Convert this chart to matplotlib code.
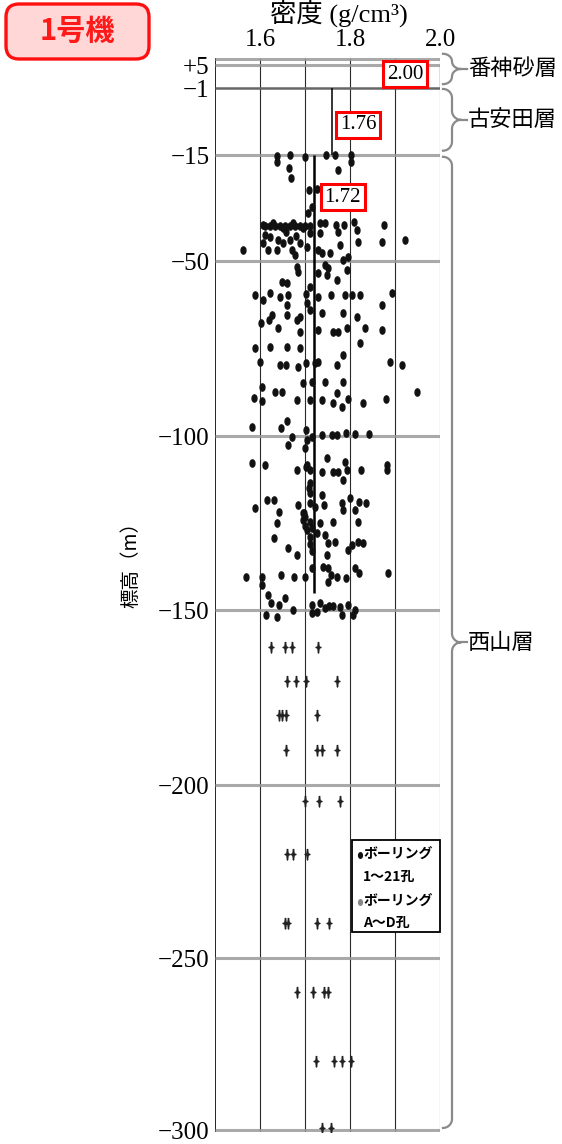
import numpy as np
import matplotlib.pyplot as plt
from matplotlib.path import Path
from matplotlib.patches import FancyBboxPatch, Rectangle
from matplotlib.lines import Line2D

SERIF = ['Liberation Serif', 'Noto Sans CJK JP']
JP = ['Noto Sans CJK JP', 'DejaVu Sans']
plt.rcParams['font.family'] = SERIF

# ボーリング1~21孔 : 標高 (m) / 密度 (g/cm3)
b121_elev = [
    -15.3, -17.3, -15.0, -15.7, -15.0, -15.0, -15.0, -17.3, -19.3, -22.6, -20.0, -26.6, -26.2, -34.2, -32.2,
    -38.4, -38.4, -38.4, -38.4, -38.4, -38.4, -38.4, -38.4, -38.4, -38.4, -37.5, -39.1, -37.5, -39.1,
    -38.1, -37.5, -37.5, -38.1, -38.1, -37.1, -39.8, -38.1, -43.7, -43.1, -46.4, -41.4, -42.1, -44.1,
    -46.4, -43.1, -46.4, -44.1, -43.1, -46.4, -48.0, -44.1, -45.4, -40.8, -40.8, -46.4, -47.4, -47.4,
    -40.4, -44.7, -48.7, -43.7, -40.4, -41.7,
    -51.7, -53.1, -51.1, -52.0, -52.6, -53.4, -54.0, -55.4, -49.7, -56.0, -56.3, -57.4, -59.7, -61.1,
    -59.1, -59.7, -59.4, -60.3, -59.7, -59.7, -59.7, -59.7, -59.1, -60.3, -62.6, -62.0, -62.6, -65.4,
    -65.4, -66.0, -64.0, -64.9, -64.9, -66.0, -67.7, -66.9, -69.1, -66.9, -70.3, -69.7, -70.3, -70.3,
    -69.1, -69.1, -69.7, -74.9, -74.6, -74.6, -74.9, -73.4, -76.9, -78.9, -79.7, -79.7, -80.3, -79.1,
    -79.1, -78.9, -79.7, -78.9, -79.7, -86.0, -87.4, -87.4, -84.9, -84.6, -84.6, -84.6, -87.7, -89.1,
    -90.0, -89.7, -89.7, -89.7, -90.6, -91.7, -89.4, -90.6, -89.4, -87.4, -97.4, -97.7, -95.7, -100.3,
    -102.6, -98.3, -101.1, -103.4, -100.3, -99.7, -99.7, -99.7, -99.1, -99.4, -99.4,
    -107.8, -108.3, -109.8, -108.9, -109.8, -106.3, -110.3, -110.3, -107.5, -112.6, -109.8, -108.3,
    -109.8, -108.3, -110.3, -109.8, -113.5, -120.7, -118.4, -118.4, -121.8, -119.8, -122.1, -116.4,
    -119.3, -120.4, -117.0, -119.8, -119.3, -117.8, -121.3, -119.0, -119.3, -125.0, -124.7, -124.7,
    -124.1, -124.7, -123.3, -121.3, -125.0, -129.3, -132.2, -134.2, -126.4, -127.9, -128.4, -130.7,
    -130.5, -134.2, -132.7, -131.3, -130.5, -130.7, -126.0, -127.0, -129.0, -131.0, -133.0, -122.0,
    -115.0,
    -140.5, -140.5, -142.8, -139.9, -140.5, -140.5, -137.9, -137.6, -137.9, -139.9, -141.9, -140.5,
    -140.8, -137.9, -139.4, -139.4, -145.7, -148.0, -148.6, -146.6, -150.0, -148.6, -150.9, -148.0,
    -148.9, -148.9, -149.1, -148.6, -150.0, -151.4, -152.0, -151.4, -151.4, -150.6, -149.4,
]
b121_dens = [
    1.638, 1.638, 1.667, 1.700, 1.747, 1.767, 1.802, 1.802, 1.664, 1.669, 1.773, 1.709, 1.727, 1.707, 1.716,
    1.611, 1.622, 1.633, 1.644, 1.656, 1.667, 1.678, 1.689, 1.700, 1.711, 1.629, 1.651, 1.673, 1.696,
    1.607, 1.733, 1.744, 1.769, 1.787, 1.809, 1.816, 1.876, 1.871, 1.922, 1.562, 1.611, 1.622, 1.607,
    1.618, 1.640, 1.638, 1.651, 1.667, 1.671, 1.678, 1.689, 1.704, 1.711, 1.733, 1.729, 1.738, 1.756,
    1.773, 1.778, 1.796, 1.818, 1.658, 1.680,
    1.682, 1.684, 1.744, 1.751, 1.793, 1.729, 1.749, 1.771, 1.784, 1.649, 1.660, 1.711, 1.589, 1.607,
    1.622, 1.662, 1.702, 1.729, 1.758, 1.789, 1.804, 1.822, 1.893, 1.644, 1.660, 1.704, 1.871, 1.627,
    1.660, 1.689, 1.711, 1.738, 1.784, 1.816, 1.602, 1.620, 1.640, 1.682, 1.689, 1.729, 1.762, 1.773,
    1.793, 1.833, 1.871, 1.589, 1.622, 1.660, 1.689, 1.822, 1.784, 1.600, 1.644, 1.658, 1.684, 1.702,
    1.722, 1.729, 1.771, 1.889, 1.916, 1.604, 1.633, 1.649, 1.696, 1.716, 1.744, 1.784, 1.771, 1.587,
    1.604, 1.682, 1.711, 1.738, 1.762, 1.782, 1.796, 1.829, 1.880, 1.949, 1.582, 1.647, 1.660, 1.671,
    1.662, 1.702, 1.704, 1.700, 1.716, 1.738, 1.760, 1.771, 1.791, 1.811, 1.842,
    1.582, 1.611, 1.682, 1.702, 1.711, 1.749, 1.762, 1.773, 1.789, 1.784, 1.824, 1.882,
    1.882, 1.704, 1.738, 1.793, 1.711, 1.589, 1.616, 1.631, 1.642, 1.684, 1.698, 1.711,
    1.711, 1.722, 1.738, 1.742, 1.782, 1.800, 1.811, 1.820, 1.836, 1.638, 1.762, 1.818,
    1.696, 1.711, 1.700, 1.784, 1.733, 1.631, 1.662, 1.682, 1.716, 1.727, 1.744, 1.751,
    1.767, 1.749, 1.796, 1.804, 1.818, 1.829, 1.700, 1.705, 1.710, 1.712, 1.715, 1.695,
    1.708,
    1.569, 1.604, 1.604, 1.647, 1.676, 1.700, 1.716, 1.740, 1.751, 1.758, 1.751, 1.771,
    1.791, 1.811, 1.820, 1.884, 1.618, 1.624, 1.642, 1.656, 1.673, 1.716, 1.716, 1.733,
    1.753, 1.762, 1.778, 1.796, 1.811, 1.613, 1.638, 1.782, 1.807, 1.727, 1.744,
]

# ボーリングA~D孔
bad_elev = [-160.5, -160.5, -160.5, -160.5, -170.3, -170.3, -170.3, -170.3,
            -180.0, -180.0, -180.0, -180.0, -190.0, -190.0, -190.0, -190.0,
            -204.5, -204.5, -204.5, -220.0, -220.0, -220.0,
            -240.0, -240.0, -240.0, -240.0, -260.0, -260.0, -260.0, -260.0,
            -280.0, -280.0, -280.0, -280.0, -299.5, -299.5]
bad_dens = [1.624, 1.656, 1.671, 1.729, 1.660, 1.680, 1.702, 1.771,
            1.642, 1.649, 1.658, 1.727, 1.658, 1.727, 1.738, 1.771,
            1.700, 1.731, 1.778, 1.660, 1.673, 1.704,
            1.656, 1.662, 1.727, 1.753, 1.682, 1.718, 1.742, 1.751,
            1.724, 1.764, 1.782, 1.802, 1.738, 1.758]

# layers and their mean density
layer_names = ['番神砂層', '古安田層', '西山層']
layer_top = [5, -1, -15]
layer_bottom = [-1, -15, -300]
mean_dens = [2.00, 1.76, 1.72]
mean_bottom = [-1, -15, -145]

y_ticks = [5, -1, -15, -50, -100, -150, -200, -250, -300]
y_ticklabels = ['+5', '−1', '−15', '−50', '−100', '−150', '−200', '−250', '−300']
x_ticks = [1.6, 1.8, 2.0]
x_ticklabels = ['1.6', '1.8', '2.0']

# the elevation axis is not evenly spaced: row (px from top) of each break
scale_elev = np.array([1000, 6.8, 5, -1, -15, -50, -100, -150, -200, -250, -300, -300.8, -1000])
scale_row = np.array([-3740, 58, 65, 88, 155, 261, 436, 610, 785, 958, 1130, 1132, 3540])


def forward(v):
    return -np.interp(-np.asarray(v, float), -scale_elev, scale_row)


def inverse(u):
    return -np.interp(-np.asarray(u, float), scale_row, -scale_elev)


W, H = 562, 1144


def fx(px):
    return px / W


def fy(py):
    return 1 - py / H


fig = plt.figure(figsize=(W / 100, H / 100), dpi=100)
ax = fig.add_axes([fx(215), fy(1132), 225 / W, 1074 / H])
ax.set_yscale('function', functions=(forward, inverse))
ax.set_xlim(1.5, 2.0)
ax.set_ylim(-300.8, 6.8)
for s in ax.spines.values():
    s.set_visible(False)

# grid
ax.vlines([1.6, 1.7, 1.8, 1.9], -300.8, 6.8, color='#2a2a2a', lw=0.8, zorder=1)
ax.vlines(1.5, -300.8, 6.8, color='black', lw=1.2, zorder=1)
ax.vlines(2.0, -300.8, 6.8, color='#b0b0b0', lw=0.9, zorder=1)
ax.hlines([6.6, 5, -15, -50, -100, -150, -200, -250, -300], 1.5, 2.0,
          color='#9a9a9a', lw=2.2, alpha=0.85, zorder=1)
ax.hlines(-1, 1.5, 2.0, color='#666666', lw=1.8, zorder=1)

# mean density lines
ax.vlines(mean_dens[0], layer_top[0], mean_bottom[0], color='#888888', lw=1.0, zorder=2)
ax.vlines(mean_dens[1], layer_top[1], mean_bottom[1], color='black', lw=1.1, zorder=2)
ax.vlines(mean_dens[2], layer_top[2], mean_bottom[2], color='black', lw=1.8, zorder=2)

# sample markers
t = np.linspace(0, 2 * np.pi, 40)
dot = Path(np.column_stack([0.68 * np.cos(t), np.sin(t)]))
star = Path([(0, 1), (0.12, 0.12), (0.45, 0), (0.12, -0.12), (0, -1),
             (-0.12, -0.12), (-0.45, 0), (-0.12, 0.12), (0, 1)])
ax.plot(b121_dens, b121_elev, ls='none', marker=dot, ms=5.2, color='#111111', zorder=3)
ax.plot(bad_dens, bad_elev, ls='none', marker=star, ms=8, color='#222222', zorder=3)

# mean value labels
label_pos = [(1.922, 2.65), (1.818, -8.7), (1.784, -28.9)]
for v, (x, y) in zip(mean_dens, label_pos):
    ax.text(x, y, f'{v:.2f}', ha='center', va='center', fontsize=15, family=SERIF, zorder=5,
            bbox=dict(boxstyle='square,pad=0.18', fc='white', ec='#ff0000', lw=2.2))

# ticks
ax.xaxis.tick_top()
ax.set_xticks(x_ticks, x_ticklabels, fontsize=18)
ax.set_yticks(y_ticks, y_ticklabels, fontsize=18)
ax.yaxis.set_minor_locator(plt.NullLocator())
ax.tick_params(axis='both', length=0)
ax.tick_params(axis='x', pad=5)
ax.tick_params(axis='y', pad=4)

fig.text(fx(339), fy(13), '密度 (g/cm³)', ha='center', va='center', fontsize=19, family=SERIF)
fig.text(fx(131), fy(560), '標高（m）', ha='center', va='center', rotation=90, fontsize=14, family=JP)


# curly braces for the layers
def brace(top, bottom, label):
    to_ax = ax.transAxes.inverted()
    aw, ah = 225.0, 1074.0
    yt = to_ax.transform(ax.transData.transform((1.5, top)))[1] * ah
    yb = to_ax.transform(ax.transData.transform((1.5, bottom)))[1] * ah
    ym = (yt + yb) / 2
    x0 = aw + 3
    rx = 9.0
    ry = min(9.0, (yt - yb) / 4)
    x1 = x0 + rx
    th = np.linspace(0, np.pi / 2, 12)
    xs = np.concatenate([x0 + rx * np.sin(th),
                         x1 + rx - rx * np.cos(th),
                         x1 + rx - rx * np.sin(th),
                         x0 + rx * np.cos(th)])
    ys = np.concatenate([yt - ry + ry * np.cos(th),
                         ym + ry - ry * np.sin(th),
                         ym - ry + ry * np.cos(th),
                         yb + ry - ry * np.sin(th)])
    ax.plot(xs / aw, ys / ah, transform=ax.transAxes, clip_on=False, color='#8a8a8a', lw=1.6)
    ax.plot([(x1 + rx) / aw, (x1 + rx + 6) / aw], [ym / ah, ym / ah], transform=ax.transAxes,
            clip_on=False, color='#8a8a8a', lw=1.6)
    ax.text((x1 + rx + 7) / aw, ym / ah, label, transform=ax.transAxes, ha='left', va='center',
            fontsize=16, family=JP)


brace(7.9, 0.0, layer_names[0])
brace(-1.2, -14.1, layer_names[1])
brace(-15.6, -299.4, layer_names[2])

# legend
fig.add_artist(Rectangle((fx(352), fy(932)), 88 / W, 92 / H, transform=fig.transFigure,
                         fc='white', ec='black', lw=1.3, zorder=6))
fig.add_artist(Line2D([fx(360)], [fy(855)], transform=fig.transFigure, marker=dot, ms=4,
                      color='#111111', zorder=7))
fig.add_artist(Line2D([fx(360)], [fy(902)], transform=fig.transFigure, marker=dot, ms=4,
                      color='#888888', zorder=7))
for txt, row in [('ボーリング', 855), ('1〜21孔', 877), ('ボーリング', 902), ('A〜D孔', 923)]:
    fig.text(fx(363), fy(row), txt, ha='left', va='center', fontsize=10, weight='bold',
             family=JP, zorder=8)

# unit badge
tax = fig.add_axes([fx(4), fy(61), 147 / W, 59 / H])
tax.set_xlim(0, 147)
tax.set_ylim(0, 59)
tax.axis('off')
tax.add_patch(FancyBboxPatch((2, 2), 143, 55, boxstyle='round,pad=0,rounding_size=13',
                             fc='#ffd7d7', ec='#ff1010', lw=2.4))
tax.text(73, 30, '1号機', ha='center', va='center', fontsize=21, weight='bold',
         color='#ff1a1a', family=JP)

fig.savefig('out.png', dpi=100)
